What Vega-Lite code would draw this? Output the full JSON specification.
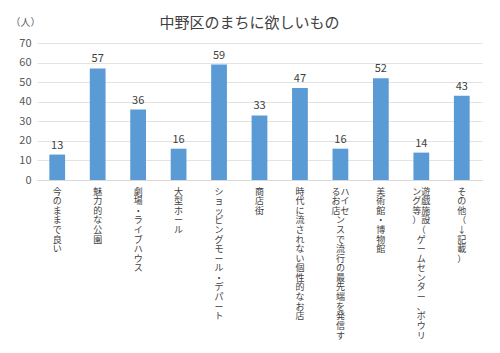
{
  "$schema": "https://vega.github.io/schema/vega-lite/v6.json",
  "autosize": "none",
  "width": 445,
  "height": 137,
  "padding": {"left": 37, "top": 43, "right": 18, "bottom": 173},
  "background": "white",
  "config": {
    "font": "Noto Sans CJK JP",
    "view": {"stroke": null}
  },
  "title": {
    "text": "中野区のまちに欲しいもの",
    "fontSize": 15,
    "fontWeight": "normal",
    "color": "#404040",
    "offset": 14,
    "dx": -10,
    "dy": 28
  },
  "data": {
    "values": [
      {"item": "今のままで良い", "value": 13},
      {"item": "魅力的な公園", "value": 57},
      {"item": "劇場・ライブハウス", "value": 36},
      {"item": "大型ホール", "value": 16},
      {"item": "ショッピングモール・デパート", "value": 59},
      {"item": "商店街", "value": 33},
      {"item": "時代に流されない個性的なお店", "value": 47},
      {"item": "ハイセンスで流行の最先端を発信するお店", "value": 16},
      {"item": "美術館・博物館", "value": 52},
      {"item": "遊戯施設（ゲームセンター、ボウリング等）", "value": 14},
      {"item": "その他（↓記載）", "value": 43}
    ]
  },
  "encoding": {
    "x": {
      "field": "item",
      "type": "nominal",
      "sort": null,
      "scale": {"paddingInner": 0.61, "paddingOuter": 0.305},
      "axis": {
        "title": null,
        "labelAngle": 0,
        "labelAlign": "center",
        "labelBaseline": "top",
        "labelPadding": 7,
        "labelFontSize": 9,
        "labelLineHeight": 9.6,
        "labelColor": "#404040",
        "labelOverlap": false,
        "labelLimit": 0,
        "ticks": false,
        "domainColor": "#d9d9d9",
        "labelExpr": "length(datum.label) > 16 ? [(length(datum.label) > 16 ? substring(datum.label,16,17) : '　') + substring(datum.label,0,1), (length(datum.label) > 17 ? substring(datum.label,17,18) : '　') + substring(datum.label,1,2), (length(datum.label) > 18 ? substring(datum.label,18,19) : '　') + substring(datum.label,2,3), (length(datum.label) > 19 ? substring(datum.label,19,20) : '　') + substring(datum.label,3,4), (length(datum.label) > 20 ? substring(datum.label,20,21) : '　') + substring(datum.label,4,5), (length(datum.label) > 21 ? substring(datum.label,21,22) : '　') + substring(datum.label,5,6), (length(datum.label) > 22 ? substring(datum.label,22,23) : '　') + substring(datum.label,6,7), (length(datum.label) > 23 ? substring(datum.label,23,24) : '　') + substring(datum.label,7,8), (length(datum.label) > 24 ? substring(datum.label,24,25) : '　') + substring(datum.label,8,9), (length(datum.label) > 25 ? substring(datum.label,25,26) : '　') + substring(datum.label,9,10), (length(datum.label) > 26 ? substring(datum.label,26,27) : '　') + substring(datum.label,10,11), (length(datum.label) > 27 ? substring(datum.label,27,28) : '　') + substring(datum.label,11,12), (length(datum.label) > 28 ? substring(datum.label,28,29) : '　') + substring(datum.label,12,13), (length(datum.label) > 29 ? substring(datum.label,29,30) : '　') + substring(datum.label,13,14), (length(datum.label) > 30 ? substring(datum.label,30,31) : '　') + substring(datum.label,14,15), (length(datum.label) > 31 ? substring(datum.label,31,32) : '　') + substring(datum.label,15,16)] : split(datum.label, '')"
      }
    },
    "y": {
      "field": "value",
      "type": "quantitative",
      "scale": {"domain": [0, 70]},
      "axis": {
        "title": "（人）",
        "titleAngle": 0,
        "titleAlign": "left",
        "titleBaseline": "middle",
        "titleX": -27,
        "titleY": -21,
        "titleFontSize": 10,
        "titleFontWeight": "normal",
        "titleColor": "#595959",
        "values": [0, 10, 20, 30, 40, 50, 60, 70],
        "labelFontSize": 11,
        "labelColor": "#595959",
        "labelPadding": 6,
        "ticks": false,
        "domain": false,
        "gridColor": "#e3e3e3"
      }
    }
  },
  "layer": [
    {"mark": {"type": "bar", "color": "#5b9bd5"}},
    {
      "mark": {"type": "text", "baseline": "bottom", "dy": -4, "fontSize": 11, "color": "#404040"},
      "encoding": {"text": {"field": "value", "type": "quantitative"}}
    }
  ]
}
